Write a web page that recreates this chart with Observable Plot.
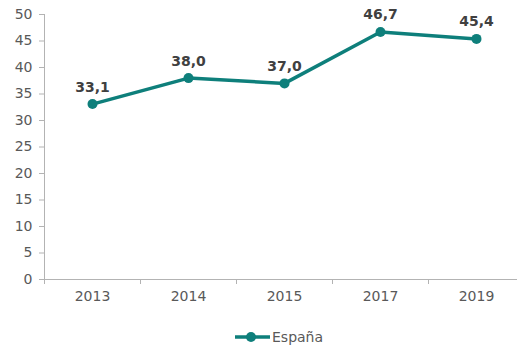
<!DOCTYPE html>
<html>
<head>
<meta charset="utf-8">
<script src="https://cdn.jsdelivr.net/npm/d3@7"></script>
<script src="https://cdn.jsdelivr.net/npm/@observablehq/plot@0.6"></script>
<style>
  html, body { margin: 0; padding: 0; background: #fff; }
  #chart { width: 517px; height: 350px; overflow: hidden; font-family: "DejaVu Sans", Verdana, sans-serif; }
  #legend { height: 32px; position: relative; }
  #legend svg { position: absolute; left: 232px; top: 0; }
</style>
</head>
<body>
<div id="chart"></div>
<script>
const years = ["2013", "2014", "2015", "2017", "2019"];
const values = [33.1, 38.0, 37.0, 46.7, 45.4];
const seriesName = "España";
const yTicks = [0, 5, 10, 15, 20, 25, 30, 35, 40, 45, 50];

const teal = "#0e7f7b";
const data = years.map((y, i) => ({i, year: y, value: values[i]}));
const boundaries = d3.range(-0.5, years.length + 0.5, 1);
const fmt = v => v.toFixed(1).replace(".", ",");

const plot = Plot.plot({
  width: 517,
  height: 318,
  marginTop: 14,
  marginBottom: 39,
  marginLeft: 44,
  marginRight: 0,
  style: {fontFamily: "DejaVu Sans, Verdana, sans-serif", fontSize: "14px", color: "#595959", background: "white", overflow: "hidden"},
  x: {domain: [-0.5, years.length - 0.5], range: [44, 524]},
  y: {domain: [0, 50]},
  marks: [
    Plot.axisY({ticks: yTicks, tickSize: 5, tickPadding: 7, stroke: "#b3b3b3", fill: "#595959", fontSize: 14, label: null}),
    Plot.ruleX([-0.5], {stroke: "#b3b3b3"}),
    Plot.ruleY([0], {stroke: "#b3b3b3"}),
    Plot.axisX({ticks: boundaries, tickSize: 5, tickFormat: () => "", stroke: "#b3b3b3", label: null}),
    Plot.axisX({ticks: data.map(d => d.i), tickSize: 0, tickPadding: 12, tickFormat: i => years[i], fill: "#595959", fontSize: 14, label: null}),
    Plot.line(data, {x: "i", y: "value", stroke: teal, strokeWidth: 3.5}),
    Plot.dot(data, {x: "i", y: "value", r: 5, fill: teal}),
    Plot.text(data, {x: "i", y: "value", text: d => fmt(d.value), dy: -17, fontWeight: "bold", fontSize: 14, fill: "#404040"})
  ]
});
document.getElementById("chart").appendChild(plot);

const legend = document.createElement("div");
legend.id = "legend";
legend.innerHTML = `<svg width="120" height="32" font-family="DejaVu Sans, Verdana, sans-serif">
  <line x1="3" x2="38" y1="19" y2="19" stroke="${teal}" stroke-width="3.5"/>
  <circle cx="19" cy="19" r="5" fill="${teal}"/>
  <text x="40" y="19" dy="0.35em" font-size="14" fill="#595959">${seriesName}</text>
</svg>`;
document.getElementById("chart").appendChild(legend);
</script>
</body>
</html>
